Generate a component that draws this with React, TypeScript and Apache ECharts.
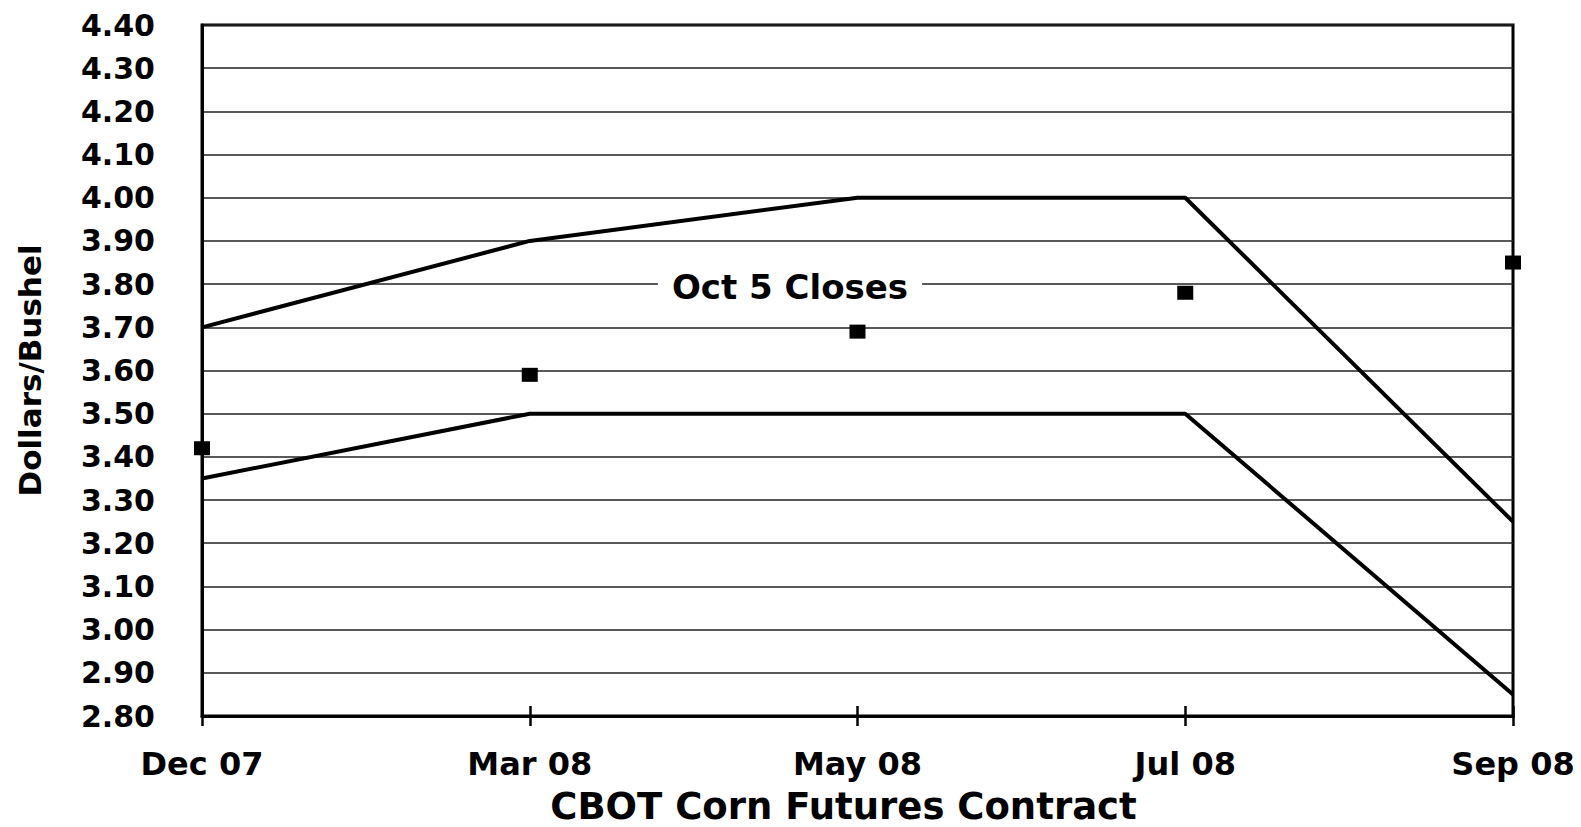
import React, { useEffect, useRef } from "react";
import * as echarts from "echarts";

const categories = ["Dec 07", "Mar 08", "May 08", "Jul 08", "Sep 08"];
const upperBand = [3.7, 3.9, 4.0, 4.0, 3.25];
const lowerBand = [3.35, 3.5, 3.5, 3.5, 2.85];
const oct5Closes = [3.42, 3.59, 3.69, 3.78, 3.85];
const yMin = 2.8;
const yMax = 4.4;
const yStep = 0.1;
const xTitle = "CBOT Corn Futures Contract";
const yTitle = "Dollars/Bushel";
const noteText = "Oct 5 Closes";

const FONT = "DejaVu Sans";

export default function App() {
  const ref = useRef<HTMLDivElement>(null);
  useEffect(() => {
    if (!ref.current) return;
    const chart = echarts.init(ref.current, null, { renderer: "svg" });
    chart.setOption({
      animation: false,
      backgroundColor: "#fff",
      grid: {
        left: 202,
        right: 68,
        top: 25,
        bottom: 111,
        outerBoundsMode: "none",
        containLabel: false,
        show: true,
        borderColor: "#000",
        borderWidth: 3,
        backgroundColor: "transparent",
      },
      xAxis: [
        {
          type: "category",
          data: categories,
          boundaryGap: false,
          axisLine: { show: true, lineStyle: { color: "#000", width: 3 } },
          axisTick: { show: true, length: 10, lineStyle: { color: "#000", width: 2.5 } },
          axisLabel: {
            color: "#000",
            fontFamily: FONT,
            fontWeight: "bold",
            fontSize: 32,
            margin: 32,
          },
          splitLine: { show: false },
          name: xTitle,
          nameLocation: "middle",
          nameGap: 67,
          nameTextStyle: {
            color: "#000",
            fontFamily: FONT,
            fontWeight: "bold",
            fontSize: 37,
            lineHeight: 43,
            padding: [0, 28, 0, 0],
          },
        },
        {
          type: "category",
          data: categories,
          boundaryGap: false,
          position: "bottom",
          axisLine: { show: false },
          axisTick: { show: true, inside: true, length: 10, lineStyle: { color: "#000", width: 2.5 } },
          axisLabel: { show: false },
          splitLine: { show: false },
        },
      ],
      yAxis: {
        type: "value",
        min: yMin,
        max: yMax,
        interval: yStep,
        axisLine: { show: true, lineStyle: { color: "#000", width: 3 } },
        axisTick: { show: false },
        axisLabel: {
          color: "#000",
          fontFamily: FONT,
          fontWeight: "bold",
          fontSize: 30,
          margin: 47,
          formatter: (v: number) => v.toFixed(2),
        },
        splitLine: { show: true, lineStyle: { color: "#222", width: 1.6 } },
        name: yTitle,
        nameLocation: "middle",
        nameRotate: 90,
        nameGap: 157,
        nameTextStyle: { color: "#000", fontFamily: FONT, fontWeight: "bold", fontSize: 31 },
      },
      series: [
        {
          type: "line",
          data: upperBand,
          symbol: "none",
          lineStyle: { color: "#000", width: 4 },
          z: 3,
        },
        {
          type: "line",
          data: lowerBand,
          symbol: "none",
          lineStyle: { color: "#000", width: 4 },
          z: 3,
        },
        {
          type: "scatter",
          data: oct5Closes,
          symbol: "rect",
          symbolSize: [16, 14],
          itemStyle: { color: "#000", opacity: 1 },
          clip: false,
          z: 4,
        },
      ],
      graphic: [
        {
          type: "text",
          x: 790,
          y: 287,
          z: 10,
          style: {
            text: noteText,
            fontFamily: FONT,
            fontWeight: "bold",
            fontSize: 34,
            fill: "#000",
            align: "center",
            verticalAlign: "middle",
            backgroundColor: "#fff",
            padding: [2, 14, 2, 14],
          },
        },
      ],
    });
    return () => chart.dispose();
  }, []);
  return <div ref={ref} style={{ width: 1581, height: 827, position: "absolute", left: 0, top: 0 }} />;
}
